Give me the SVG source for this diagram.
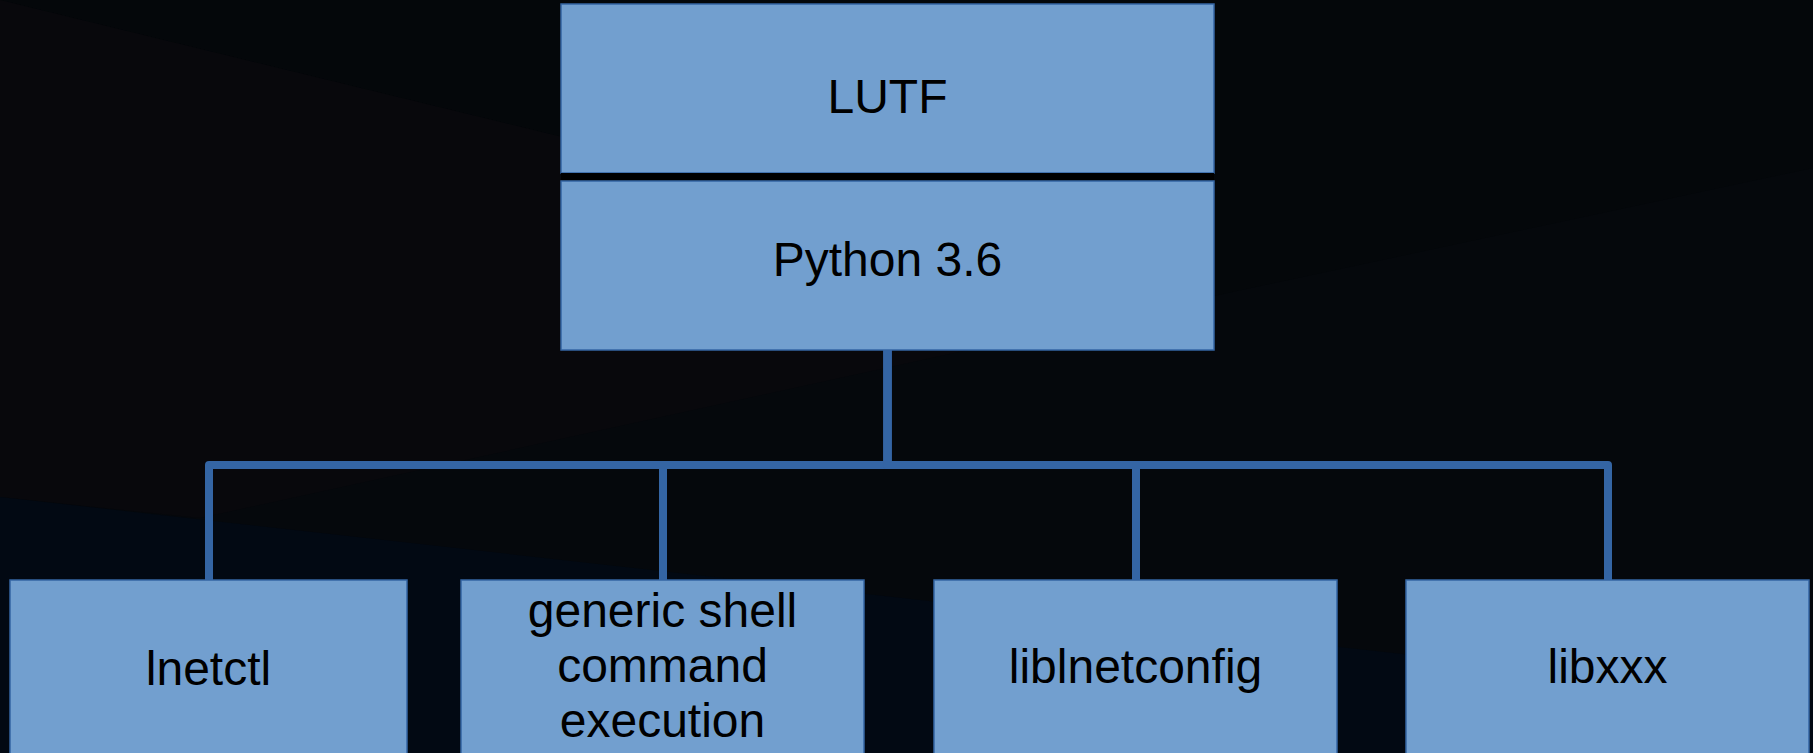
<svg xmlns="http://www.w3.org/2000/svg" width="1813" height="753" viewBox="0 0 1813 753">
  <style>
    .box { fill: #729fcf; stroke: #3465a4; stroke-width: 1.5; }
    .lbl { font-family: "Liberation Sans", Arial, sans-serif; font-size: 48px; fill: #000; text-anchor: middle; }
    .conn { fill: none; stroke: #3465a4; stroke-width: 8; stroke-linejoin: round; stroke-linecap: butt; }
  </style>
  <g id="background">
    <rect x="0" y="0" width="1813" height="753" fill="#05080c"/>
    <polygon points="0,0 1813,0 1813,168 1214,296" fill="#04070a"/>
    <polygon points="0,0 1214,296 200,518 0,497" fill="#08080c"/>
    <polygon points="0,497 1813,700 1813,753 0,753" fill="#020913"/>
  </g>
  <g id="connectors">
    <path class="conn" d="M887.5,350 V465 H209 V580"/>
    <path class="conn" d="M887.5,350 V465 H663 V580"/>
    <path class="conn" d="M887.5,350 V465 H1136 V580"/>
    <path class="conn" d="M887.5,350 V465 H1608 V580"/>
  </g>
  <g id="lutf">
    <rect class="box" x="561" y="4" width="653" height="169"/>
    <text class="lbl" x="887.5" y="113">LUTF</text>
  </g>
  <rect x="561" y="173" width="653" height="8" fill="#000"/>
  <g id="python">
    <rect class="box" x="561" y="181" width="653" height="169"/>
    <text class="lbl" x="887.5" y="276">Python 3.6</text>
  </g>
  <g id="lnetctl">
    <rect class="box" x="10" y="580" width="397" height="180"/>
    <text class="lbl" x="208.5" y="685">lnetctl</text>
  </g>
  <g id="shell">
    <rect class="box" x="461" y="580" width="403" height="180"/>
    <text class="lbl" x="662.5" y="627">generic shell</text>
    <text class="lbl" x="662.5" y="682">command</text>
    <text class="lbl" x="662.5" y="737">execution</text>
  </g>
  <g id="liblnetconfig">
    <rect class="box" x="934" y="580" width="403" height="180"/>
    <text class="lbl" x="1135.5" y="683">liblnetconfig</text>
  </g>
  <g id="libxxx">
    <rect class="box" x="1406" y="580" width="403" height="180"/>
    <text class="lbl" x="1607.5" y="683">libxxx</text>
  </g>
</svg>
